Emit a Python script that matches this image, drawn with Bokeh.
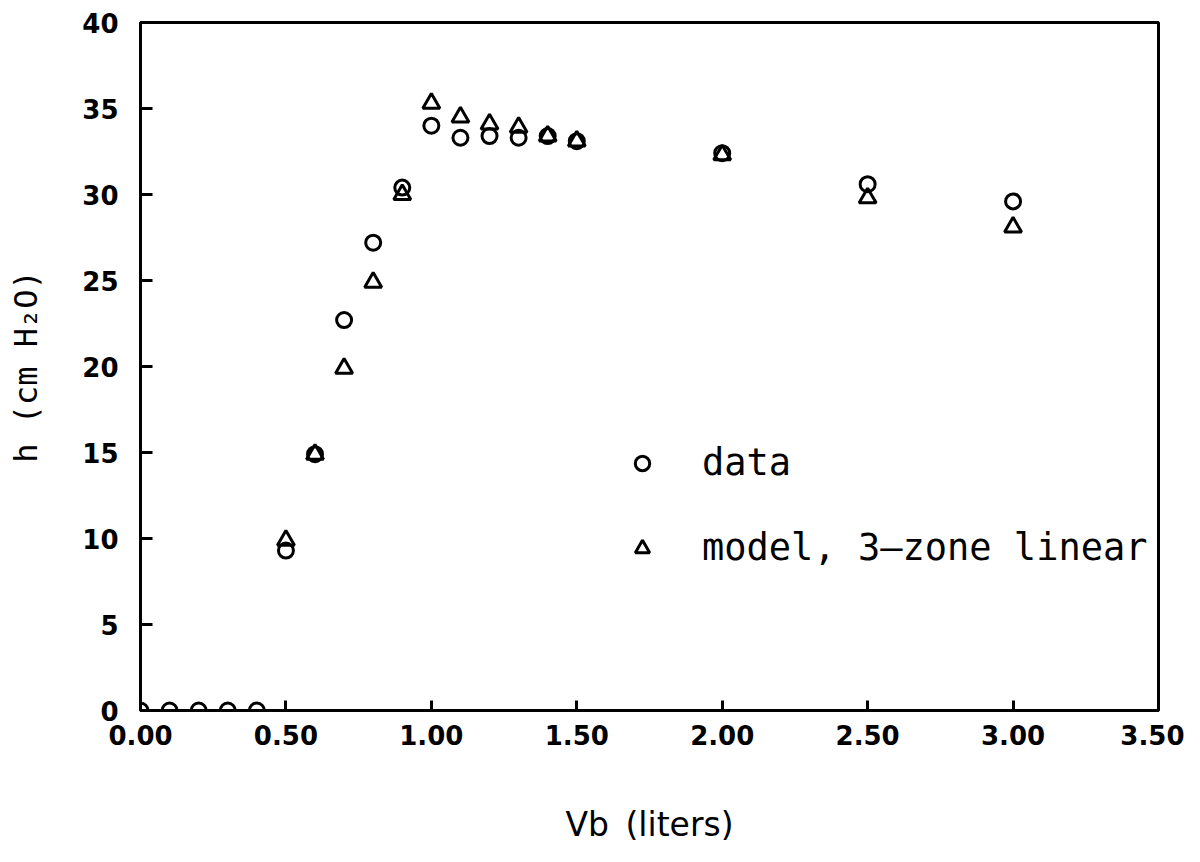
from bokeh.plotting import figure
from bokeh.models import Range1d, FixedTicker, PrintfTickFormatter, Legend, LegendItem
from bokeh.embed import file_html
from bokeh.resources import INLINE

# ---- data ----
vb_data = [0.0, 0.1, 0.2, 0.3, 0.4, 0.5, 0.6, 0.7, 0.8, 0.9, 1.0, 1.1, 1.2, 1.3, 1.4, 1.5, 2.0, 2.5, 3.0]
h_data = [0.0, 0.0, 0.0, 0.0, 0.0, 9.3, 14.9, 22.7, 27.2, 30.4, 34.0, 33.3, 33.4, 33.3, 33.4, 33.1, 32.4, 30.6, 29.6]

vb_model = [0.5, 0.6, 0.7, 0.8, 0.9, 1.0, 1.1, 1.2, 1.3, 1.4, 1.5, 2.0, 2.5, 3.0]
h_model = [9.9, 14.9, 19.9, 24.9, 30.0, 35.3, 34.5, 34.1, 33.9, 33.4, 33.1, 32.3, 29.8, 28.1]

x_ticks = [0.0, 0.5, 1.0, 1.5, 2.0, 2.5, 3.0, 3.5]
y_ticks = [0, 5, 10, 15, 20, 25, 30, 35, 40]

x_label = "Vb\u2002(liters)"
y_label = "h (cm H\u2082O)"
legend_labels = ["data", "model,\u20023\u2013zone\u2002linear"]

FONT = "DejaVu Sans"
MONO = "DejaVu Sans Mono"

p = figure(width=1184, height=846, output_backend="svg", toolbar_location=None,
           x_range=Range1d(0, 3.5), y_range=Range1d(0, 40),
           min_border_left=140, min_border_right=26, min_border_top=22, min_border_bottom=136)

p.background_fill_color = "white"
p.border_fill_color = "white"
p.grid.visible = False
p.outline_line_color = "black"
p.outline_line_width = 3

for ax in (p.xaxis[0], p.yaxis[0]):
    ax.axis_line_width = 3
    ax.axis_line_color = "black"
    ax.major_tick_in = 12
    ax.major_tick_out = 0
    ax.major_tick_line_width = 3
    ax.minor_tick_line_color = None
    ax.major_label_text_font = FONT
    ax.major_label_text_font_size = "26px"
    ax.major_label_text_font_style = "bold"
    ax.major_label_text_color = "black"
    ax.major_label_standoff = 14
    ax.axis_label_text_font_style = "normal"
    ax.axis_label_text_color = "black"

p.xaxis[0].ticker = FixedTicker(ticks=x_ticks)
p.xaxis[0].formatter = PrintfTickFormatter(format="%.2f")
p.xaxis[0].axis_label = x_label
p.xaxis[0].axis_label_text_font = FONT
p.xaxis[0].axis_label_text_font_size = "33px"
p.xaxis[0].axis_label_standoff = 57
p.xaxis[0].major_tick_in = 10

p.yaxis[0].ticker = FixedTicker(ticks=y_ticks)
p.yaxis[0].formatter = PrintfTickFormatter(format="%d")
p.yaxis[0].axis_label = y_label
p.yaxis[0].axis_label_text_font = MONO
p.yaxis[0].axis_label_text_font_size = "32px"
p.yaxis[0].axis_label_standoff = 34
p.yaxis[0].major_label_standoff = 22

r_data = p.scatter(vb_data, h_data, marker="circle", size=15, fill_color=None,
                   line_color="black", line_width=3)
r_model = p.scatter(vb_model, h_model, marker="triangle", size=17, fill_color=None,
                    line_color="black", line_width=3)

legend = Legend(items=[LegendItem(label=legend_labels[0], renderers=[r_data]),
                       LegendItem(label=legend_labels[1], renderers=[r_model])],
                location=(484, 141), orientation="vertical",
                border_line_color=None, background_fill_alpha=0,
                padding=0, margin=0, spacing=42,
                glyph_width=36, glyph_height=36, label_height=36,
                label_standoff=42,
                label_text_font=MONO, label_text_font_size="37px",
                label_text_color="black")
p.add_layout(legend, "center")

open("out.html", "w").write(file_html(p, INLINE))
